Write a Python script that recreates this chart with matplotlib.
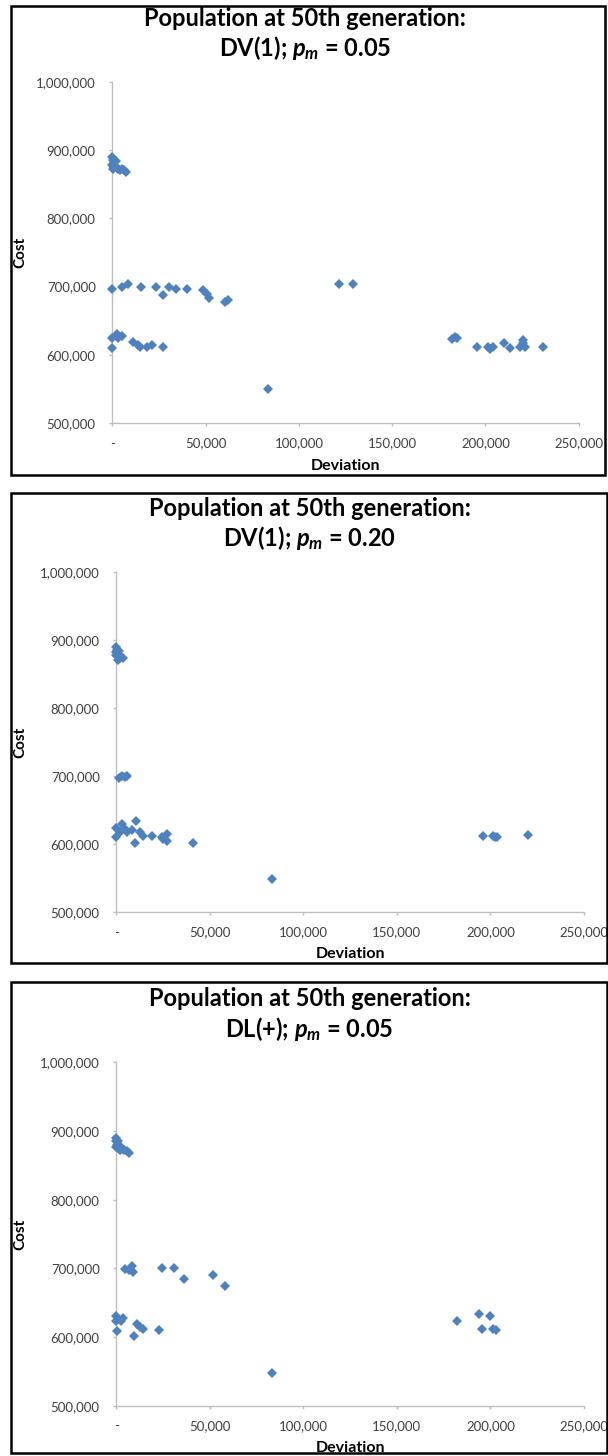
import numpy as np
import matplotlib
matplotlib.use('Agg')
import matplotlib.pyplot as plt
from matplotlib.patches import Rectangle
from matplotlib.ticker import FuncFormatter


plt.rcParams['font.family'] = ['Lato', 'DejaVu Sans']
plt.rcParams['mathtext.fontset'] = 'custom'
plt.rcParams['mathtext.rm'] = 'Lato:bold'
plt.rcParams['mathtext.it'] = 'Lato:bold:italic'

W, H = 608, 1456

# panel 1: DV(1), pm = 0.05
dev_1 = [0, 500, 1000, 0, 1500, 2000, 2500, 3000, 4000, 5000, 6000, 7300, 800, 300,
         0, 5300, 8500, 15300, 23200, 27300, 30300, 34100, 40200, 48700, 50900, 52000, 60400, 62100,
         121500, 129200,
         0, 0, 2300, 3000, 5000, 11200, 13900, 14800, 18400, 21000, 27300,
         83600,
         181900, 183700, 184900, 195600, 201500, 202500, 203900, 209900, 213200, 218500,
         220000, 220300, 221200, 230700]
cost_1 = [890000, 886000, 882000, 879000, 877000, 884000, 874000, 872000, 871000, 873000, 871000, 868000, 875000, 872000,
          697000, 700000, 704000, 700000, 700000, 687000, 700000, 696000, 696000, 695000, 689000, 684000, 678000, 681000,
          704000, 704000,
          610000, 624000, 631000, 624000, 627000, 619000, 614000, 611000, 611000, 614000, 612000,
          549500,
          623000, 626000, 624000, 612000, 611000, 609000, 611000, 617000, 610000, 612000,
          621000, 617000, 612000, 612000]

# panel 2: DV(1), pm = 0.20
dev_2 = [0, 500, 0, 1000, 1500, 500, 2000, 3500, 1000, 1500, 0,
         1600, 3200, 4600, 5500,
         0, 0, 2900, 2000, 4600, 5500, 10500, 10000, 8200, 12700, 14400, 18900, 24300, 26900, 27200, 25000, 41200,
         83100,
         195800, 201500, 202500, 203600, 220200]
cost_2 = [890000, 886000, 882000, 880000, 878000, 876000, 874000, 874000, 870000, 884000, 878000,
          697000, 700000, 698000, 700000,
          624000, 610000, 630000, 618000, 622000, 617000, 634000, 602000, 620000, 617000, 612000, 612000, 611000,
          614000, 605000, 607000, 602000,
          549000,
          612000, 612000, 610000, 610000, 613000]

# panel 3: DL(+), pm = 0.05
dev_3 = [0, 0, 500, 1000, 0, 1500, 2000, 3000, 4000, 5500, 7000, 1000, 2500,
         4600, 8200, 7000, 9100, 24300, 31000, 36400, 51900, 58100,
         0, 0, 200, 3700, 2500, 10900, 12700, 14400, 9600, 23000,
         83100,
         182300, 193700, 199900, 195300, 201400, 203000]
cost_3 = [890000, 885000, 880000, 878000, 876000, 874000, 872000, 874000, 873000, 871000, 868000, 886000, 876000,
          699000, 704000, 698000, 694000, 700000, 700000, 684000, 691000, 675000,
          631000, 623000, 609000, 627000, 624000, 619000, 615000, 612000, 602000, 610000,
          548000,
          623000, 634000, 631000, 611000, 612000, 610000]

titles = ['DV(1); $p_m$ = 0.05', 'DV(1); $p_m$ = 0.20', 'DL(+); $p_m$ = 0.05']
xticks = [0, 50000, 100000, 150000, 200000, 250000]
yticks = [500000, 600000, 700000, 800000, 900000, 1000000]

# pixel boxes: (left, right, top, bottom) of axes and of the frame around each chart
axes_px = [(112.4, 578.7, 82, 423), (116.3, 584, 572, 912), (116.3, 584, 1062.3, 1405.7)]
frame_px = [(10.9, 605, 6, 475), (10.9, 606.5, 492.7, 963.3), (10.9, 606.5, 981.7, 1453)]
title_x = [305, 309.5, 309.5]

blue = '#4F81BD'
axis_gray = '#BFBFBF'


def fmt_num(v, pos):
    if v == 0:
        return '-'
    return '{:,.0f}'.format(v)


fig = plt.figure(figsize=(W / 100, H / 100), dpi=100)

data = [(dev_1, cost_1), (dev_2, cost_2), (dev_3, cost_3)]
for i in range(3):
    l, r, t, b = axes_px[i]
    ax = fig.add_axes([l / W, 1 - b / H, (r - l) / W, (b - t) / H])
    x, y = data[i]
    ax.plot(x, y, linestyle='none', marker='D', ms=5.4, mew=0, color=blue,
            clip_on=False, zorder=5)
    ax.set_xlim(0, 250000)
    ax.set_ylim(500000, 1000000)
    ax.set_xticks(xticks)
    ax.set_yticks(yticks)
    ax.xaxis.set_major_formatter(FuncFormatter(fmt_num))
    ax.yaxis.set_major_formatter(FuncFormatter(fmt_num))
    for s in ['top', 'right']:
        ax.spines[s].set_visible(False)
    for s in ['left', 'bottom']:
        ax.spines[s].set_color(axis_gray)
        ax.spines[s].set_linewidth(1.0)
    ax.tick_params(axis='x', direction='out', length=2.5, width=1.0, color=axis_gray,
                   labelsize=9.5, labelcolor='#404040', pad=8)
    ax.tick_params(axis='y', direction='out', length=2.5, width=1.0, color=axis_gray,
                   labelsize=9.5, labelcolor='#404040', pad=9.5)
    ax.set_facecolor('none')

    # axis titles
    ax.set_xlabel('Deviation', fontsize=11.5, fontweight='bold', va='center')
    ax.xaxis.set_label_coords(0.5, -42.5 / (b - t))
    ax.set_ylabel('Cost', fontsize=11, fontweight='bold', va='center')
    ax.yaxis.set_label_coords(-(l - 20) / (r - l), 0.5)

    # chart title, two lines
    fig.text(title_x[i] / W, 1 - (t - 56.5) / H, 'Population at 50th generation:',
             ha='center', va='baseline', fontsize=17, fontweight='bold')
    fig.text(title_x[i] / W, 1 - (t - 25.5) / H, titles[i],
             ha='center', va='baseline', fontsize=17, fontweight='bold')

    fl, fr, ft, fb = frame_px[i]
    fig.add_artist(Rectangle((fl / W, 1 - fb / H), (fr - fl) / W, (fb - ft) / H,
                             transform=fig.transFigure, fill=False,
                             edgecolor='black', linewidth=1.8))

fig.savefig('out.png', dpi=100)
